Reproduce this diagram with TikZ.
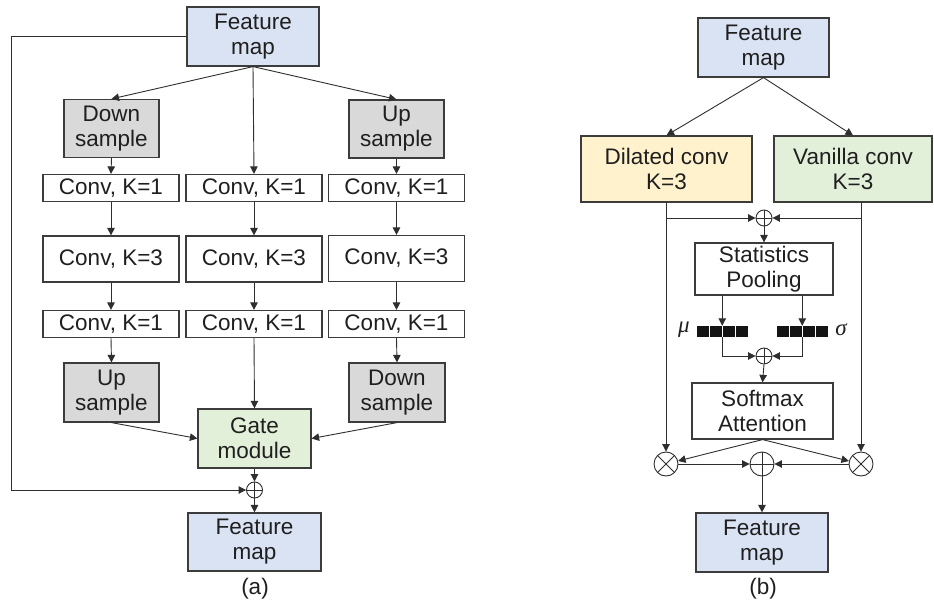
\documentclass[tikz,border=0pt]{standalone}
\usepackage{fontspec}
\setmainfont{Liberation Sans}
\newfontfamily\grkfont{Liberation Serif}
\usetikzlibrary{arrows.meta,calc}
\definecolor{fmblue}{HTML}{DAE3F3}
\definecolor{gbox}{HTML}{D9D9D9}
\definecolor{ggreen}{HTML}{E2F0D9}
\definecolor{gyellow}{HTML}{FFF2CC}
\definecolor{lncol}{HTML}{2E2E2E}
\definecolor{bdcol}{HTML}{3C3C3C}
\tikzset{
  box/.style={draw=bdcol, line width=1.2pt, inner sep=0pt, align=center,
    font=\fontsize{22.5}{25}\selectfont, text=black!88},
  fmbox/.style={box, fill=fmblue, minimum width=132pt, minimum height=59pt},
  sampbox/.style={box, fill=gbox, minimum width=95pt, minimum height=58pt},
  convone/.style={box, minimum width=136pt, minimum height=27pt},
  convthree/.style={box, minimum width=136pt, minimum height=46pt},
  arr/.style={draw=lncol, line width=0.9pt, -{Triangle[length=7.5pt,width=7.5pt]}},
  plain/.style={draw=lncol, line width=0.9pt},
  opl/.style={circle, draw=lncol, line width=0.9pt, inner sep=0pt, minimum size=#1,
    path picture={\draw[lncol, line width=0.9pt]
      (path picture bounding box.north) -- (path picture bounding box.south)
      (path picture bounding box.west) -- (path picture bounding box.east);}},
  otm/.style={circle, draw=lncol, line width=0.9pt, inner sep=0pt, minimum size=#1,
    path picture={\draw[lncol, line width=0.9pt]
      (path picture bounding box.north west) -- (path picture bounding box.south east)
      (path picture bounding box.south west) -- (path picture bounding box.north east);}},
  caplabel/.style={font=\fontsize{22.5}{25}\selectfont, text=black!88, inner sep=0pt},
}
\begin{document}
\begin{tikzpicture}[x=1pt, y=-1pt]
\path[use as bounding box] (0,0) rectangle (934,604);

% ---------------- panel (a) ----------------
\node[fmbox] (fmA) at (253,36.5) {Feature\\map};
\node[sampbox] (dsA) at (111.5,128.5) {Down\\sample};
\node[sampbox] (usA) at (396.5,129) {Up\\sample};
\node[convone] (c11) at (111,188) {Conv, K=1};
\node[convone] (c12) at (254,188) {Conv, K=1};
\node[convone] (c13) at (396.5,188) {Conv, K=1};
\node[convthree] (c21) at (111,259) {Conv, K=3};
\node[convthree] (c22) at (254,259) {Conv, K=3};
\node[convthree] (c23) at (396.5,258.5) {Conv, K=3};
\node[convone] (c31) at (111,324) {Conv, K=1};
\node[convone] (c32) at (254,324) {Conv, K=1};
\node[convone] (c33) at (396.5,324) {Conv, K=1};
\node[sampbox, minimum height=59pt] (us2) at (111.5,392.5) {Up\\sample};
\node[sampbox, minimum height=59pt, minimum width=96pt] (ds2) at (397,392.5) {Down\\sample};
\node[box, fill=ggreen, minimum width=113pt, minimum height=59pt] (gate) at (254.5,438.5) {Gate\\module};
\node[opl=16pt] (plusA) at (254.5,490) {};
\node[fmbox, minimum width=133pt, minimum height=58pt] (fmA2) at (254.5,542) {Feature\\map};
\node[caplabel] (labA) at (255,589) {(a)};
\coordinate (skipT) at (11,36.5);
\coordinate (skipB) at (11,490);

\draw[arr] (fmA.south) -- (dsA.north);
\draw[arr] (fmA.south) -- (c12.north);
\draw[arr] (fmA.south) -- (usA.north);
\draw[arr] (dsA.south) -- (c11.north);
\draw[arr] (usA.south) -- (c13.north);
\draw[arr] (c11.south) -- (c21.north);
\draw[arr] (c12.south) -- (c22.north);
\draw[arr] (c13.south) -- (c23.north);
\draw[arr] (c21.south) -- (c31.north);
\draw[arr] (c22.south) -- (c32.north);
\draw[arr] (c23.south) -- (c33.north);
\draw[arr] (c31.south) -- (us2.north);
\draw[arr] (c32.south) -- (gate.north);
\draw[arr] (c33.south) -- (ds2.north);
\draw[arr] (us2.south) -- (gate.west);
\draw[arr] (ds2.south) -- (gate.east);
\draw[arr] (gate.south) -- (plusA.north);
\draw[arr] (plusA.south) -- (fmA2.north);
\draw[arr] (fmA.west) -- (skipT) -- (skipB) -- (plusA.west);

% ---------------- panel (b) ----------------
\node[fmbox, minimum width=131pt] (fmB) at (763.5,47.5) {Feature\\map};
\node[box, fill=gyellow, minimum width=171pt, minimum height=66pt] (dil) at (666.5,169) {Dilated conv\\K=3};
\node[box, fill=ggreen, minimum width=158pt, minimum height=66pt] (van) at (853,169) {Vanilla conv\\K=3};
\node[opl=16pt] (plus1) at (764,218) {};
\node[box, minimum width=138pt, minimum height=52pt] (sp) at (764,269) {Statistics\\Pooling};
\foreach \i in {0,...,3} {
  \fill[black!92] (697+\i*13,326) rectangle ++(11.5,11);
  \fill[black!92] (777+\i*13,326) rectangle ++(11.5,11);
}
\node[inner sep=0pt, minimum width=50.5pt, minimum height=11pt] (mu) at (722.25,331.5) {};
\node[inner sep=0pt, minimum width=50.5pt, minimum height=11pt] (sg) at (802.25,331.5) {};
\node[caplabel, font=\grkfont\itshape\fontsize{23}{25}\selectfont] (muL) at (684,330) {μ};
\node[caplabel, font=\grkfont\itshape\fontsize{23}{25}\selectfont] (sgL) at (841,330) {σ};
\node[opl=16pt] (plus2) at (764,356) {};
\node[box, minimum width=141pt, minimum height=56pt] (sa) at (762.5,411) {Softmax\\Attention};
\node[otm=24pt] (otL) at (666,464) {};
\node[otm=24pt] (otR) at (861,464) {};
\node[opl=24pt] (plus3) at (762,464) {};
\node[fmbox] (fmB2) at (762,542.5) {Feature\\map};
\node[caplabel] (labB) at (763,589) {(b)};

\draw[arr] (fmB.south) -- (dil.north);
\draw[arr] (fmB.south) -- (van.north);
\draw[arr] (dil.south -| otL) -- (otL.north);
\draw[arr] (van.south -| otR) -- (otR.north);
\draw[arr] (otL |- plus1) -- (plus1.west);
\draw[arr] (otR |- plus1) -- (plus1.east);
\draw[arr] (plus1.south) -- (sp.north);
\draw[arr] (sp.south -| mu) -- (mu.north);
\draw[arr] (sp.south -| sg) -- (sg.north);
\draw[arr] (mu.south) |- (plus2.west);
\draw[arr] (sg.south) |- (plus2.east);
\draw[arr] (plus2.south) -- (sa.north);
\draw[arr] (sa.south) -- (otL);
\draw[arr] (sa.south) -- (otR);
\draw[arr] (otL.east) -- (plus3.west);
\draw[arr] (otR.west) -- (plus3.east);
\draw[arr] (plus3.south) -- (fmB2.north);
\end{tikzpicture}
\end{document}
